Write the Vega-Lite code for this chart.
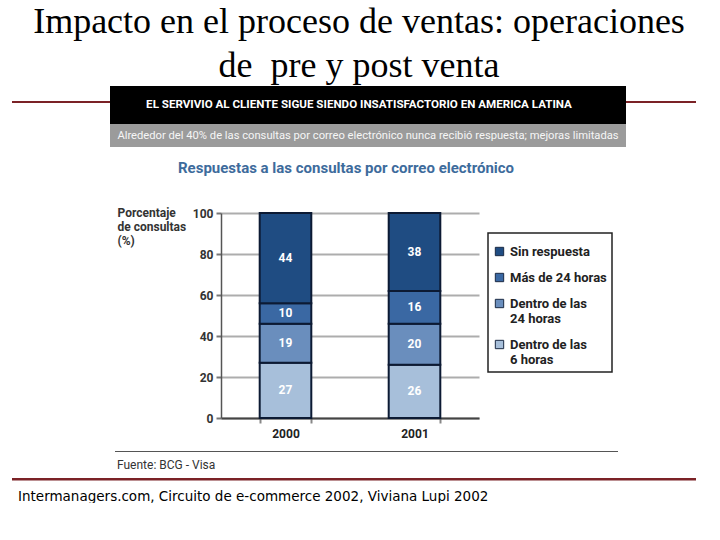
{
  "$schema": "https://vega.github.io/schema/vega-lite/v6.json",
  "padding": {"left": 12, "top": 4, "right": 0, "bottom": 0},
  "autosize": {"type": "pad"},
  "background": "white",
  "title": {
    "text": ["Impacto en el proceso de ventas: operaciones", "de\u00a0 pre y post venta"],
    "font": "Liberation Serif",
    "fontSize": 36,
    "fontWeight": "normal",
    "color": "#000000",
    "lineHeight": 44,
    "anchor": "middle",
    "offset": 1,
    "dx": 5
  },
  "config": {
    "view": {"stroke": null},
    "concat": {"spacing": 0},
    "legend": {"strokeWidth": 1.5}
  },
  "vconcat": [
    {
      "hconcat": [
        {
          "vconcat": [
            {"width": 98, "height": 15, "data": {"values": []}, "mark": "point"},
            {"width": 98, "height": 2, "data": {"values": []}, "mark": "point", "view": {"fill": "#7B2226", "stroke": null}}
          ]
        },
        {
          "width": 516,
          "height": 38,
          "data": {"values": [{"t": "EL SERVIVIO AL CLIENTE SIGUE SIENDO INSATISFACTORIO EN AMERICA LATINA"}]},
          "mark": {"type": "text", "color": "#ffffff", "font": "Roboto", "fontSize": 11.6, "fontWeight": "bold", "baseline": "middle", "align": "center", "dx": -9},
          "encoding": {"text": {"field": "t", "type": "nominal"}},
          "view": {"fill": "#000000", "stroke": null}
        },
        {
          "vconcat": [
            {"width": 70, "height": 15, "data": {"values": []}, "mark": "point"},
            {"width": 70, "height": 2, "data": {"values": []}, "mark": "point", "view": {"fill": "#7B2226", "stroke": null}}
          ]
        }
      ]
    },
    {
      "hconcat": [
        {"width": 98, "height": 23, "data": {"values": []}, "mark": "point"},
        {
          "width": 516,
          "height": 23,
          "data": {"values": [{"t": "Alrededor del 40% de las consultas por correo electrónico nunca recibió respuesta; mejoras limitadas"}]},
          "mark": {"type": "text", "color": "#f6f6f6", "font": "Roboto", "fontSize": 11.2, "baseline": "middle", "align": "center"},
          "encoding": {"text": {"field": "t", "type": "nominal"}},
          "view": {"fill": "#9b9b9b", "stroke": null}
        }
      ]
    },
    {"width": 1, "height": 14, "data": {"values": []}, "mark": "point"},
    {
      "hconcat": [
        {"width": 105, "height": 1, "data": {"values": []}, "mark": "point"},
        {
          "width": 258,
          "height": 205,
          "data": {
            "values": [
              {"año": "2000", "respuesta": "Dentro de las 6 horas", "valor": 27, "orden": 1},
              {"año": "2000", "respuesta": "Dentro de las 24 horas", "valor": 19, "orden": 2},
              {"año": "2000", "respuesta": "Más de 24 horas", "valor": 10, "orden": 3},
              {"año": "2000", "respuesta": "Sin respuesta", "valor": 44, "orden": 4},
              {"año": "2001", "respuesta": "Dentro de las 6 horas", "valor": 26, "orden": 1},
              {"año": "2001", "respuesta": "Dentro de las 24 horas", "valor": 20, "orden": 2},
              {"año": "2001", "respuesta": "Más de 24 horas", "valor": 16, "orden": 3},
              {"año": "2001", "respuesta": "Sin respuesta", "valor": 38, "orden": 4}
            ]
          },
          "title": {
            "text": "Respuestas a las consultas por correo electrónico",
            "anchor": "start",
            "frame": "group",
            "dx": -43,
            "font": "Roboto",
            "fontSize": 15,
            "fontWeight": "bold",
            "color": "#3D6B9C",
            "offset": 30
          },
          "encoding": {
            "x": {
              "field": "año",
              "type": "nominal",
              "scale": {"paddingInner": 0.6, "paddingOuter": 0.3},
              "axis": {
                "title": null,
                "labelAngle": 0,
                "domainColor": "#444444",
                "domainWidth": 2,
                "tickBand": "extent",
                "tickSize": 5,
                "tickColor": "#888888",
                "tickWidth": 2,
                "labelPadding": 5,
                "labelFont": "Roboto",
                "labelFontSize": 12,
                "labelFontWeight": "bold",
                "labelColor": "#222222"
              }
            },
            "y": {
              "field": "valor",
              "type": "quantitative",
              "stack": "zero",
              "scale": {"domain": [0, 100], "nice": false},
              "axis": {
                "values": [0, 20, 40, 60, 80, 100],
                "grid": true,
                "gridColor": "#adadad",
                "gridWidth": 2,
                "domainColor": "#555555",
                "domainWidth": 1.5,
                "tickColor": "#777777",
                "tickSize": 5,
                "tickWidth": 2,
                "labelPadding": 3,
                "labelFont": "Roboto",
                "labelFontSize": 12,
                "labelFontWeight": "bold",
                "labelColor": "#333333",
                "title": ["Porcentaje", "de consultas", "(%)"],
                "titleAngle": 0,
                "titleAlign": "left",
                "titleBaseline": "top",
                "titleX": -104,
                "titleY": -6,
                "titleFont": "Roboto",
                "titleFontSize": 12,
                "titleFontWeight": "bold",
                "titleColor": "#333333",
                "titleLineHeight": 14
              }
            },
            "order": {"field": "orden", "type": "quantitative"}
          },
          "layer": [
            {
              "mark": {"type": "bar", "stroke": "#0c1a33", "strokeWidth": 2},
              "encoding": {
                "color": {
                  "field": "respuesta",
                  "type": "nominal",
                  "scale": {
                    "domain": ["Sin respuesta", "Más de 24 horas", "Dentro de las 24 horas", "Dentro de las 6 horas"],
                    "range": ["#1F4C82", "#3A68A3", "#6A8EBD", "#A7BFDA"]
                  },
                  "legend": {
                    "title": "\u00a0",
                    "titleFontSize": 7,
                    "titlePadding": 0,
                    "orient": "none",
                    "legendX": 476,
                    "legendY": 147,
                    "padding": 5,
                    "strokeColor": "#222222",
                    "fillColor": "#ffffff",
                    "symbolType": "square",
                    "symbolSize": 70,
                    "symbolStrokeWidth": 1,
                    "symbolStrokeColor": "#1a2a44",
                    "labelFont": "Roboto",
                    "labelFontSize": 13,
                    "labelFontWeight": "bold",
                    "labelColor": "#222222",
                    "labelOffset": 4,
                    "labelLimit": 200,
                    "rowPadding": 12,
                    "labelExpr": "datum.label == 'Dentro de las 24 horas' ? ['Dentro de las', '24 horas'] : datum.label == 'Dentro de las 6 horas' ? ['Dentro de las', '6 horas'] : datum.label"
                  }
                }
              }
            },
            {
              "mark": {"type": "text", "color": "#ffffff", "font": "Roboto", "fontSize": 12, "fontWeight": "bold", "baseline": "middle"},
              "encoding": {
                "y": {"field": "valor", "type": "quantitative", "stack": "zero", "bandPosition": 0.5},
                "detail": {"field": "respuesta", "type": "nominal"},
                "text": {"field": "valor", "type": "quantitative"}
              }
            }
          ]
        }
      ]
    },
    {"width": 1, "height": 12, "data": {"values": []}, "mark": "point"},
    {
      "hconcat": [
        {"width": 103, "height": 1, "data": {"values": []}, "mark": "point"},
        {
          "width": 503,
          "height": 1,
          "data": {"values": []},
          "mark": "point",
          "view": {"fill": "#555555", "stroke": null},
          "title": {"text": "Fuente: BCG - Visa", "orient": "bottom", "anchor": "start", "dx": 2, "offset": 8, "font": "Roboto", "fontSize": 12, "fontWeight": "normal", "color": "#333333"}
        }
      ]
    },
    {"width": 1, "height": 7, "data": {"values": []}, "mark": "point"},
    {
      "width": 684,
      "height": 2.5,
      "data": {"values": []},
      "mark": "point",
      "view": {"fill": "#7B2226", "stroke": null},
      "title": {"text": "Intermanagers.com, Circuito de e-commerce 2002, Viviana Lupi 2002", "orient": "bottom", "anchor": "start", "dx": 6, "offset": 9, "font": "DejaVu Sans", "fontSize": 13.5, "fontWeight": "normal", "color": "#000000"}
    }
  ]
}
